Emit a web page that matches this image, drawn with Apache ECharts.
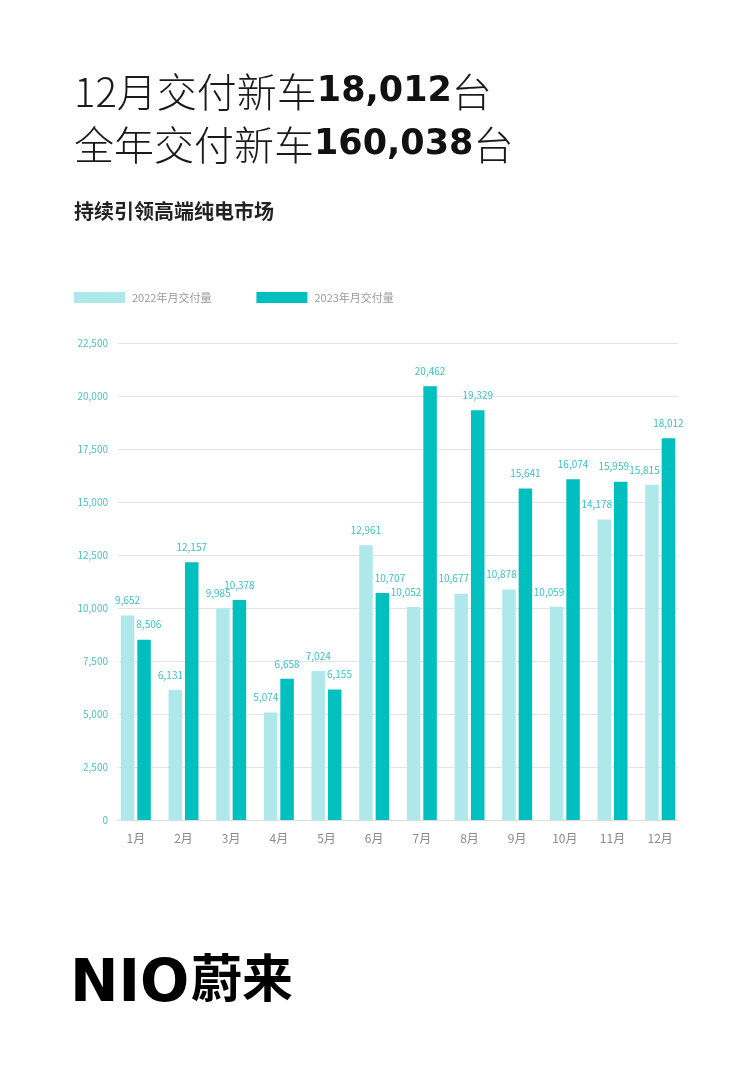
<!DOCTYPE html>
<html><head><meta charset="utf-8">
<script src="https://cdn.jsdelivr.net/npm/echarts@6/dist/echarts.min.js"></script>
<style>html,body{margin:0;padding:0;background:#fff}#c{width:752px;height:1080px}</style>
</head><body><div id="c"></div>
<script>
const categories = ['1月','2月','3月','4月','5月','6月','7月','8月','9月','10月','11月','12月'];
const values2022 = [9652, 6131, 9985, 5074, 7024, 12961, 10052, 10677, 10878, 10059, 14178, 15815];
const values2023 = [8506, 12157, 10378, 6658, 6155, 10707, 20462, 19329, 15641, 16074, 15959, 18012];
const seriesNames = ['2022年月交付量', '2023年月交付量'];
const yTicks = {min: 0, max: 22500, interval: 2500};

const fmt = v => String(v).replace(/\B(?=(\d{3})+(?!\d))/g, ',');
const CJK = '"Noto Sans CJK SC", "Noto Sans", sans-serif';
const NUM = '"DejaVu Sans", "Open Sans", sans-serif';
const BAR_W = 13.5;

// The shorter bar of each pair has its label pushed outward so it doesn't run over the taller neighbour
const outward2022 = values2022.map((v, i) => v < values2023[i]);
const data2022 = values2022.map((v, i) => outward2022[i]
  ? {value: v, label: {align: 'right', offset: [BAR_W / 2 + 1, 0]}}
  : {value: v});
const data2023 = values2023.map((v, i) => {
  if (v < values2022[i]) return {value: v, label: {align: 'left', offset: [-BAR_W / 2 - 1, 0]}};
  // nudge left when the next month's pushed-out 2022 label sits at nearly the same height
  if (i + 1 < values2022.length && outward2022[i + 1] && Math.abs(values2022[i + 1] - v) < 800)
    return {value: v, label: {offset: [-7, 0]}};
  return {value: v};
});

const chart = echarts.init(document.getElementById('c'));
const labelCfg = {show: true, position: 'top', distance: 10, color: '#3cc3c3', fontSize: 10, letterSpacing: -0.4, formatter: p => fmt(p.value)};
chart.setOption({
  backgroundColor: '#fff',
  textStyle: {fontFamily: CJK},
  title: [
    {
      left: 74, top: 65, padding: 0,
      text: '{a|12月交付新车}{b|18,012}{a|台}\n{a|全年交付新车}{b|160,038}{a|台}',
      textStyle: {
        rich: {
          a: {fontSize: 40, fontWeight: 300, color: '#1a1a1a', fontFamily: CJK, lineHeight: 53},
          b: {fontSize: 35, fontWeight: 'bold', color: '#111', fontFamily: NUM, lineHeight: 53}
        }
      }
    },
    {
      left: 74, top: 201, padding: 0,
      text: '持续引领高端纯电市场',
      textStyle: {fontSize: 20, fontWeight: 'bold', color: '#222', fontFamily: CJK}
    },
    {
      left: 70, top: 957, padding: 0,
      text: 'NIO',
      textStyle: {fontSize: 58, fontWeight: 'bold', color: '#000', fontFamily: NUM, letterSpacing: 2}
    },
    {
      left: 191, top: 952, padding: 0,
      text: '蔚来',
      textStyle: {fontSize: 51, fontWeight: 'bold', color: '#000', fontFamily: CJK}
    }
  ],
  legend: {
    left: 74, top: 292, padding: 0,
    itemWidth: 51, itemHeight: 11, itemGap: 45,
    icon: 'rect',
    textStyle: {color: '#9a9a9a', fontSize: 11, padding: [0,0,0,2]},
    data: seriesNames
  },
  grid: [
    {left: 112, right: 68, top: 343, bottom: 260},
    {left: 118, right: 74, top: 343, bottom: 260}
  ],
  xAxis: [
    {
      type: 'category', gridIndex: 0,
      data: categories,
      axisLine: {show: false},
      axisTick: {show: false},
      axisLabel: {color: '#8a8a8a', fontSize: 12, margin: 12}
    },
    {
      type: 'category', gridIndex: 1, data: categories,
      axisLine: {lineStyle: {color: '#dcdcdc'}},
      axisTick: {show: false}, axisLabel: {show: false}
    }
  ],
  yAxis: [
    {
      type: 'value', gridIndex: 0,
      min: yTicks.min, max: yTicks.max, interval: yTicks.interval,
      axisLine: {show: false}, axisTick: {show: false},
      splitLine: {show: false}, axisLabel: {show: false}
    },
    {
      type: 'value', gridIndex: 1,
      min: yTicks.min, max: yTicks.max, interval: yTicks.interval,
      axisLine: {show: false},
      axisTick: {show: false},
      splitLine: {lineStyle: {color: '#e4e4e4'}},
      axisLabel: {color: '#4cc4c4', fontSize: 10, margin: 10, formatter: v => fmt(v)}
    }
  ],
  series: [
    {
      name: seriesNames[0], type: 'bar', data: data2022,
      xAxisIndex: 0, yAxisIndex: 0,
      barWidth: BAR_W, barGap: '22%',
      itemStyle: {color: '#aee8ea'},
      label: labelCfg
    },
    {
      name: seriesNames[1], type: 'bar', data: data2023,
      xAxisIndex: 0, yAxisIndex: 0,
      barWidth: BAR_W,
      itemStyle: {color: '#00bfbf'},
      label: labelCfg
    }
  ]
});
</script></body></html>
